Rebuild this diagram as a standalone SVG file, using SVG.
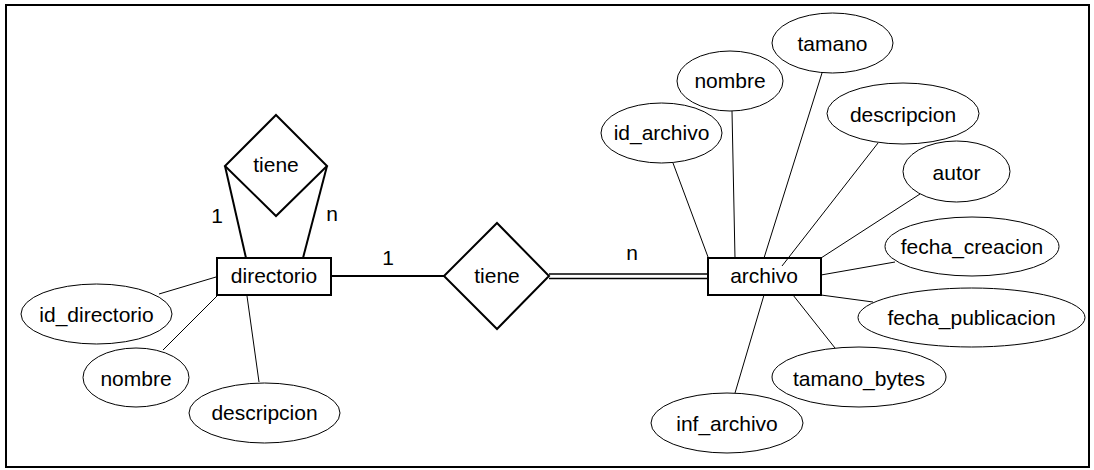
<svg xmlns="http://www.w3.org/2000/svg" width="1094" height="470" viewBox="0 0 1094 470">
<style>
text{font-family:"Liberation Sans",Arial,sans-serif;font-size:21px;fill:#000;text-anchor:middle}
.ent{fill:#fff;stroke:#000;stroke-width:2}
.rel{fill:#fff;stroke:#000;stroke-width:2}
.att{fill:#fff;stroke:#000;stroke-width:1}
.thin{stroke:#000;stroke-width:1;fill:none}
.thick{stroke:#000;stroke-width:2;fill:none}
.dbl{stroke:#000;stroke-width:1.6;fill:none}
</style>
<rect x="0" y="0" width="1094" height="470" fill="#fff"/>
<rect x="6" y="5" width="1083" height="462" fill="none" stroke="#000" stroke-width="2"/>
<g id="connectors">
<line class="thick" x1="225" y1="166" x2="246" y2="258"/>
<line class="thick" x1="327" y1="166" x2="303" y2="258"/>
<line class="thick" x1="331" y1="276" x2="444" y2="276"/>
<line class="dbl" x1="549" y1="274" x2="708" y2="274"/>
<line class="dbl" x1="549" y1="278.5" x2="708" y2="278.5"/>
<line class="thin" x1="159" y1="294" x2="216" y2="277"/>
<line class="thin" x1="163" y1="350" x2="217" y2="296"/>
<line class="thin" x1="247" y1="296" x2="259" y2="382"/>
<line class="thin" x1="673" y1="163" x2="708" y2="257"/>
<line class="thin" x1="732" y1="111" x2="735" y2="258"/>
<line class="thin" x1="822" y1="73" x2="764" y2="258"/>
<line class="thin" x1="878" y1="143" x2="782" y2="266"/>
<line class="thin" x1="920" y1="194" x2="821" y2="258"/>
<line class="thin" x1="895" y1="262" x2="821" y2="275"/>
<line class="thin" x1="821" y1="295" x2="873" y2="302"/>
<line class="thin" x1="793" y1="295" x2="835" y2="348"/>
<line class="thin" x1="764" y1="295" x2="735" y2="393"/>
<text x="217" y="223">1</text>
<text x="332" y="221">n</text>
<text x="388" y="265">1</text>
<text x="632" y="260">n</text>
</g>
<g id="rel-tiene-self">
<polygon class="rel" points="276,115 327,166 276,216 225,166"/>
<text x="276" y="172">tiene</text>
</g>
<g id="rel-tiene">
<polygon class="rel" points="497,223 549,276 497,329 444,276"/>
<text x="497" y="283">tiene</text>
</g>
<g id="directorio">
<rect class="ent" x="217" y="258" width="114" height="37"/>
<text x="274" y="283">directorio</text>
</g>
<g id="archivo">
<rect class="ent" x="708" y="258" width="113" height="37" fill-opacity="0"/>
<text x="764" y="283">archivo</text>
</g>
<g id="attr-id_directorio"><ellipse class="att" cx="96.5" cy="314" rx="75.5" ry="30"/><text x="96.5" y="322">id_directorio</text></g>
<g id="attr-nombre-dir"><ellipse class="att" cx="136" cy="377.5" rx="53" ry="29.5"/><text x="136" y="386">nombre</text></g>
<g id="attr-descripcion-dir"><ellipse class="att" cx="264.5" cy="413" rx="75.5" ry="30"/><text x="264.5" y="420">descripcion</text></g>
<g id="attr-id_archivo"><ellipse class="att" cx="661.5" cy="133" rx="60.5" ry="30"/><text x="661.5" y="140">id_archivo</text></g>
<g id="attr-nombre"><ellipse class="att" cx="730" cy="81" rx="53" ry="30"/><text x="730" y="88">nombre</text></g>
<g id="attr-tamano"><ellipse class="att" cx="832.5" cy="43" rx="60.5" ry="30"/><text x="832.5" y="51">tamano</text></g>
<g id="attr-descripcion"><ellipse class="att" cx="903" cy="113.5" rx="76" ry="30.5"/><text x="903" y="122">descripcion</text></g>
<g id="attr-autor"><ellipse class="att" cx="956.5" cy="171.5" rx="53.5" ry="30.5"/><text x="956.5" y="180">autor</text></g>
<g id="attr-fecha_creacion"><ellipse class="att" cx="972" cy="246.5" rx="87" ry="29.5"/><text x="972" y="254">fecha_creacion</text></g>
<g id="attr-fecha_publicacion"><ellipse class="att" cx="971.5" cy="317.5" rx="113.5" ry="29.5"/><text x="971.5" y="325">fecha_publicacion</text></g>
<g id="attr-tamano_bytes"><ellipse class="att" cx="859" cy="377" rx="87" ry="30"/><text x="859" y="386">tamano_bytes</text></g>
<g id="attr-inf_archivo"><ellipse class="att" cx="727" cy="423" rx="76" ry="30"/><text x="727" y="431">inf_archivo</text></g>
</svg>
